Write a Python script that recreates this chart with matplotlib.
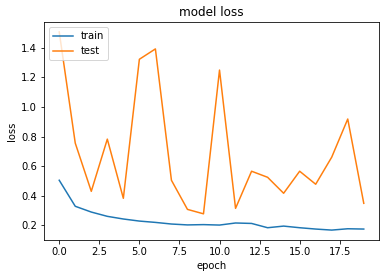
import matplotlib.pyplot as plt

# loss values
epochs = list(range(20))
train_loss = [0.505, 0.329, 0.290, 0.261, 0.243, 0.229, 0.220, 0.209, 0.203, 0.205,
              0.202, 0.216, 0.213, 0.184, 0.195, 0.184, 0.175, 0.168, 0.177, 0.175]
test_loss = [1.508, 0.756, 0.430, 0.783, 0.383, 1.323, 1.393, 0.505, 0.308, 0.278,
             1.250, 0.315, 0.566, 0.525, 0.417, 0.566, 0.478, 0.661, 0.919, 0.349]

fig = plt.figure(figsize=(386 / 72, 278 / 72), dpi=72)
ax = fig.add_axes([44 / 386, 38 / 278, 335 / 386, 218 / 278])

ax.plot(epochs, train_loss)
ax.plot(epochs, test_loss)
ax.set_title('model loss')
ax.set_ylabel('loss')
ax.set_xlabel('epoch')
ax.legend(['train', 'test'], loc='upper left')

fig.savefig('out.png', dpi=72)
